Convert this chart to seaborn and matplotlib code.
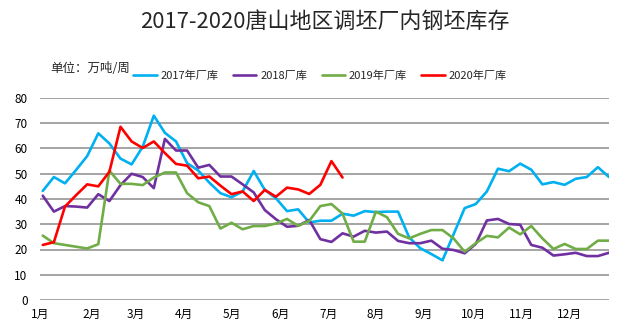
import matplotlib
matplotlib.use("Agg")
import matplotlib.pyplot as plt
import seaborn as sns
import pandas as pd
import numpy as np

# ---- data ----
v2017 = [43.2, 48.7, 46.2, 51.5, 57, 66, 62, 56, 53.7, 60.7, 73, 66.2, 62.8, 54.2, 51.3, 46.5,
         42.3, 40.7, 43, 51.1, 43.6, 40.3, 35.2, 35.9, 30.7, 31.4, 31.4, 34.2, 33.4, 35.2, 34.8, 35,
         35, 24.8, 20.5, 18.2, 15.7, 26, 36.4, 38, 43, 52, 51, 54, 51.6, 45.8, 46.7, 45.6, 48, 48.7,
         52.6, 48.7]
v2018 = [41.3, 35, 37.2, 37, 36.6, 41.9, 39.2, 45.5, 50, 48.7, 44.3, 63.8, 59.2, 59.2, 52.4, 53.5,
         48.9, 48.9, 45.8, 42.6, 35.6, 32, 29, 29.4, 31.7, 24.1, 23, 26.4, 25.1, 27.4, 26.7, 27.1,
         23.4, 22.5, 22.5, 23.5, 20.3, 19.8, 18.5, 22.2, 31.5, 32.1, 30.1, 29.8, 21.8, 20.7, 17.6,
         18.1, 18.7, 17.4, 17.4, 18.7]
v2019 = [25.5, 22.5, 21.8, 21.1, 20.4, 22.1, 51.2, 46, 46, 45.5, 48.5, 50.5, 50.5, 42.3, 38.7, 37.2,
         28.3, 30.6, 28, 29.3, 29.3, 30.3, 32.1, 29.4, 31.3, 37.2, 38, 34.2, 23.1, 23.1, 35, 32.8,
         26.2, 24.4, 26.2, 27.7, 27.7, 24.4, 19.1, 22.5, 25.4, 24.8, 28.7, 26, 29.3, 24.4, 20.2,
         22.2, 20.2, 20.2, 23.5, 23.5]
v2020 = [21.8, 22.9, 37, 41.5, 45.8, 45, 50.8, 68.6, 62.8, 60.2, 62.8, 58.2, 53.9, 53.2, 48.2, 48.9,
         45.3, 41.9, 43, 39.2, 43.6, 40.9, 44.5, 43.8, 42, 45.6, 55, 48.5]

series_names = ["2017年厂库", "2018厂库", "2019年厂库", "2020年厂库"]
series_values = [v2017, v2018, v2019, v2020]
month_labels = ["1月", "2月", "3月", "4月", "5月", "6月", "7月", "8月", "9月", "10月", "11月", "12月"]
month_pos = [-0.25, 4.39, 8.34, 12.7, 17.0, 21.4, 25.7, 30.0, 34.3, 38.8, 43.1, 47.4]
colors = ["#00B0F0", "#7030A0", "#70AD47", "#FF0000"]

rows = []
for name, vals in zip(series_names, series_values):
    for i, v in enumerate(vals):
        rows.append({"week": i, "value": v, "series": name})
df = pd.DataFrame(rows)

sns.set_style("white")
plt.rcParams["font.family"] = ["Noto Sans CJK SC", "DejaVu Sans"]

fig = plt.figure(figsize=(6.18, 3.32), dpi=100)
ax = fig.add_axes([40 / 618, 1 - 300 / 332, 569 / 618, 202 / 332])

sns.lineplot(data=df, x="week", y="value", hue="series", hue_order=series_names,
             palette=colors, linewidth=1.9, ax=ax, legend=False)

ax.set_xlim(0, 51)
ax.set_ylim(0, 80)
ax.set_yticks(range(0, 81, 10))
ax.yaxis.grid(True, color="#8c8c8c", linewidth=1.1)
ax.set_axisbelow(True)
for s in ax.spines.values():
    s.set_visible(False)
ax.set_xticks(month_pos)
ax.set_xticklabels(month_labels)
ax.tick_params(axis="both", length=0, labelsize=8.5, colors="#000000")
ax.tick_params(axis="y", pad=9)
ax.tick_params(axis="x", pad=6)
ax.set_xlabel("")
ax.set_ylabel("")

fig.text(0.525, 0.935, "2017-2020唐山地区调坯厂内钢坯库存", ha="center", va="center", fontsize=15.8)
fig.text(50 / 618, 1 - 68 / 332, "单位：万吨/周", ha="left", va="center", fontsize=9)

from matplotlib.lines import Line2D
handles = [Line2D([0], [0], color=c, lw=1.9) for c in colors]
fig.legend(handles, series_names, loc="center", bbox_to_anchor=(0.518, 1 - 76 / 332), ncol=4,
           frameon=False, fontsize=8, handlelength=2.1, handletextpad=0.35, columnspacing=1.3)

fig.savefig("out.png", dpi=100)
